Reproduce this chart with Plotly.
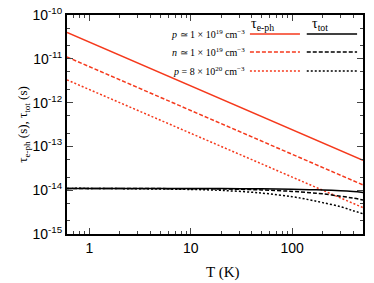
import plotly.graph_objects as go

# Data
T_line = [0.6, 500]
tau_eph_p19 = [4.0e-11, 4.8e-14]
tau_eph_n19 = [1.1e-11, 1.32e-14]
tau_eph_p20 = [3.3e-12, 4.0e-15]

T_tot = [0.6, 1, 10, 20, 50, 100, 150, 200, 300, 400, 500]
tau_tot_p19 = [1.1e-14, 1.1e-14, 1.095e-14, 1.09e-14, 1.075e-14, 1.05e-14, 1.03e-14, 1.01e-14, 9.7e-15, 9.3e-15, 8.9e-15]
tau_tot_n19 = [1.1e-14, 1.1e-14, 1.08e-14, 1.065e-14, 1.015e-14, 9.4e-15, 8.8e-15, 8.25e-15, 7.3e-15, 6.6e-15, 6.0e-15]
tau_tot_p20 = [1.1e-14, 1.1e-14, 1.04e-14, 9.9e-15, 8.6e-15, 7.1e-15, 6.0e-15, 5.2e-15, 4.2e-15, 3.4e-15, 2.9e-15]

x_tickvals = [1, 10, 100]
x_ticktext = ["1", "10", "100"]
y_exps = [-10, -11, -12, -13, -14, -15]

legend_labels = ["<i>p</i> ≃ 1 × 10<sup>19</sup> cm<sup>−3</sup>",
                 "<i>n</i> ≃ 1 × 10<sup>19</sup> cm<sup>−3</sup>",
                 "<i>p</i> = 8 × 10<sup>20</sup> cm<sup>−3</sup>"]

RED = "#f5391c"
BLACK = "#000000"
dashes = ["solid", "4px,2px", "2px,2px"]

fig = go.Figure()
for ys, d in zip([tau_eph_p19, tau_eph_n19, tau_eph_p20], dashes):
    fig.add_trace(go.Scatter(x=T_line, y=ys, mode="lines",
                             line=dict(color=RED, width=1.5, dash=d), showlegend=False))
for ys, d in zip([tau_tot_p19, tau_tot_n19, tau_tot_p20], dashes):
    fig.add_trace(go.Scatter(x=T_tot, y=ys, mode="lines", line_shape="spline",
                             line=dict(color=BLACK, width=1.5, dash=d), showlegend=False))

serif = "Liberation Serif"
sans = "Liberation Sans"

# custom legend
row_y = [0.913, 0.831, 0.744]
fig.add_annotation(xref="paper", yref="paper", x=0.705, y=0.957, text="τ<sub>e-ph</sub>",
                   showarrow=False, font=dict(family=serif, size=14, color="black"), yanchor="middle")
fig.add_annotation(xref="paper", yref="paper", x=0.89, y=0.957, text="τ<sub>tot</sub>",
                   showarrow=False, font=dict(family=serif, size=14, color="black"), yanchor="middle")
for yy, lab, d in zip(row_y, legend_labels, dashes):
    fig.add_annotation(xref="paper", yref="paper", x=0.608, y=yy, text=lab, xanchor="right",
                       yanchor="middle", showarrow=False,
                       font=dict(family=serif, size=10, color="black"))
    fig.add_shape(type="line", xref="paper", yref="paper", x0=0.618, x1=0.787, y0=yy, y1=yy,
                  line=dict(color=RED, width=1.5, dash=d))
    fig.add_shape(type="line", xref="paper", yref="paper", x0=0.81, x1=0.98, y0=yy, y1=yy,
                  line=dict(color=BLACK, width=1.5, dash=d))

# x axis title (slightly right of centre, as in the reference)
fig.add_annotation(xref="paper", yref="paper", x=0.527, y=-0.178, text="T (K)",
                   showarrow=False, xanchor="center", yanchor="middle",
                   font=dict(family=serif, size=15, color="black"))

fig.update_layout(
    width=374, height=283,
    margin=dict(l=67, r=11, t=15, b=49),
    plot_bgcolor="white", paper_bgcolor="white",
    font=dict(family=sans, size=14, color="black"),
)
fig.update_xaxes(type="log", range=[-0.2218, 2.699], automargin=False,
                 tickvals=x_tickvals, ticktext=x_ticktext,
                 ticks="inside", ticklen=6, tickwidth=1.2,
                 minor=dict(ticks="inside", ticklen=3, dtick="D1", showgrid=False),
                 showline=True, linewidth=2, linecolor="black", mirror="allticks",
                 showgrid=False, zeroline=False,
                 tickfont=dict(family=sans, size=14))
fig.update_yaxes(type="log", range=[-15, -10], automargin=False,
                 tickvals=[10.0 ** e for e in y_exps],
                 ticktext=["10<sup>%d</sup>" % e for e in y_exps],
                 ticklabeloverflow="allow",
                 ticks="inside", ticklen=6, tickwidth=1.2,
                 minor=dict(ticks="inside", ticklen=3, dtick="D2", showgrid=False),
                 showline=True, linewidth=2, linecolor="black", mirror="allticks",
                 showgrid=False, zeroline=False,
                 title=dict(text="τ<sub>e-ph</sub> (s), τ<sub>tot</sub> (s)", font=dict(family=serif, size=13), standoff=2),
                 tickfont=dict(family=sans, size=14))

# remove the default 8px page margin so the figure fills the window exactly
fig.write_html("out.html", config={"displayModeBar": False},
               post_script="document.body.style.margin='0';")
